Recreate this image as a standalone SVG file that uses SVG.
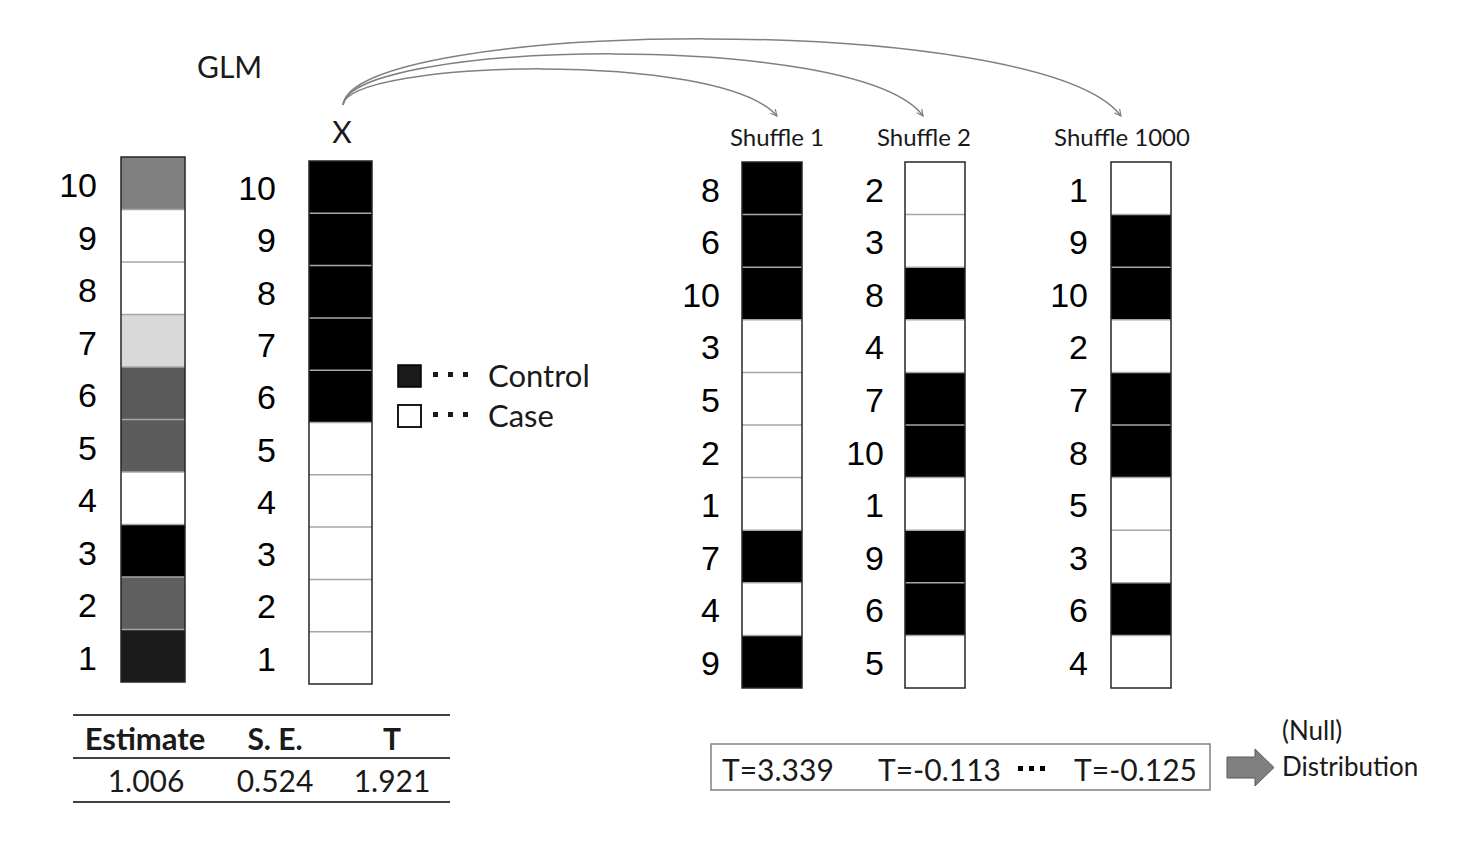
<svg xmlns="http://www.w3.org/2000/svg" width="1482" height="843" viewBox="0 0 1482 843">
<style>
.num{font-family:"Liberation Sans",Arial,Helvetica,sans-serif;font-size:34px;fill:#000;text-anchor:end}
.cal{font-family:Lato,"Open Sans",sans-serif;fill:#1a1a1a}
.sep{stroke:#a6a6a6;stroke-width:1.5}
.outer{fill:none;stroke:#262626;stroke-width:1.5}
.arc{fill:none;stroke:#808080;stroke-width:1.5}
.rule{stroke:#404040;stroke-width:2}
</style>
<defs>
<marker id="ah" viewBox="0 0 10 10" refX="9" refY="5" markerWidth="8" markerHeight="8" orient="auto" markerUnits="userSpaceOnUse">
<path d="M1,1 L9,5 L1,9" fill="none" stroke="#808080" stroke-width="1.5"/>
</marker>
</defs>
<rect width="1482" height="843" fill="#fff"/>

<text x="197" y="78" class="cal" font-size="30">GLM</text>

<g id="glm-column">
<rect x="121" y="157" width="64" height="52.5" fill="#808080"/>
<rect x="121" y="209.5" width="64" height="52.5" fill="#fff"/>
<rect x="121" y="262" width="64" height="52.5" fill="#fff"/>
<rect x="121" y="314.5" width="64" height="52.5" fill="#d9d9d9"/>
<rect x="121" y="367" width="64" height="52.5" fill="#595959"/>
<rect x="121" y="419.5" width="64" height="52.5" fill="#5c5c5c"/>
<rect x="121" y="472" width="64" height="52.5" fill="#fff"/>
<rect x="121" y="524.5" width="64" height="52.5" fill="#000"/>
<rect x="121" y="577" width="64" height="52.5" fill="#5f5f5f"/>
<rect x="121" y="629.5" width="64" height="52.5" fill="#1a1a1a"/>
<path class="sep" d="M121,209.5H185M121,262H185M121,314.5H185M121,367H185M121,419.5H185M121,472H185M121,524.5H185M121,577H185M121,629.5H185"/>
<rect class="outer" x="121" y="157" width="64" height="525"/>
<text class="num" x="97" y="197">10</text>
<text class="num" x="97" y="249.5">9</text>
<text class="num" x="97" y="302">8</text>
<text class="num" x="97" y="354.5">7</text>
<text class="num" x="97" y="407">6</text>
<text class="num" x="97" y="459.5">5</text>
<text class="num" x="97" y="512">4</text>
<text class="num" x="97" y="564.5">3</text>
<text class="num" x="97" y="617">2</text>
<text class="num" x="97" y="669.5">1</text>
</g>

<g id="x-column">
<text x="342" y="143" class="cal" font-size="30" text-anchor="middle" fill="#000">X</text>
<rect x="309" y="161" width="63" height="261.5" fill="#000"/>
<rect x="309" y="422.5" width="63" height="261.5" fill="#fff"/>
<path class="sep" d="M309,213.3H372M309,265.6H372M309,317.9H372M309,370.2H372M309,422.5H372M309,474.8H372M309,527.1H372M309,579.4H372M309,631.7H372"/>
<rect class="outer" x="309" y="161" width="63" height="523"/>
<text class="num" x="276" y="200">10</text>
<text class="num" x="276" y="252.3">9</text>
<text class="num" x="276" y="304.6">8</text>
<text class="num" x="276" y="356.9">7</text>
<text class="num" x="276" y="409.2">6</text>
<text class="num" x="276" y="461.5">5</text>
<text class="num" x="276" y="513.8">4</text>
<text class="num" x="276" y="566.1">3</text>
<text class="num" x="276" y="618.4">2</text>
<text class="num" x="276" y="670.7">1</text>
</g>

<g id="legend">
<rect x="398" y="365" width="23" height="22" fill="#1a1a1a" stroke="#000" stroke-width="1.5"/>
<rect x="398" y="405" width="23" height="22" fill="#fff" stroke="#1a1a1a" stroke-width="2"/>
<g fill="#1a1a1a">
<rect x="433" y="372" width="5" height="5"/><rect x="448" y="372" width="5" height="5"/><rect x="463" y="372" width="5" height="5"/>
<rect x="433" y="412" width="5" height="5"/><rect x="448" y="412" width="5" height="5"/><rect x="463" y="412" width="5" height="5"/>
</g>
<text x="488" y="387" class="cal" font-size="31">Control</text>
<text x="488" y="427" class="cal" font-size="31">Case</text>
</g>

<g id="connectors">
<path class="arc" d="M343,105 C348,60 720,50 777,116" marker-end="url(#ah)"/>
<path class="arc" d="M343,105 C350,40 860,30 923,116" marker-end="url(#ah)"/>
<path class="arc" d="M343,105 C352,20 1040,10 1121,116" marker-end="url(#ah)"/>
</g>

<g id="shuffle-1">
<text x="777" y="146" class="cal" font-size="24" text-anchor="middle">Shuffle 1</text>
<rect x="742" y="162" width="60" height="157.8" fill="#000"/>
<rect x="742" y="319.8" width="60" height="210.4" fill="#fff"/>
<rect x="742" y="530.2" width="60" height="52.6" fill="#000"/>
<rect x="742" y="582.8" width="60" height="52.6" fill="#fff"/>
<rect x="742" y="635.4" width="60" height="52.6" fill="#000"/>
<path class="sep" d="M742,214.6H802M742,267.2H802M742,319.8H802M742,372.4H802M742,425H802M742,477.6H802M742,530.2H802M742,582.8H802M742,635.4H802"/>
<rect class="outer" x="742" y="162" width="60" height="526"/>
<text class="num" x="720" y="201.5">8</text>
<text class="num" x="720" y="254.1">6</text>
<text class="num" x="720" y="306.7">10</text>
<text class="num" x="720" y="359.3">3</text>
<text class="num" x="720" y="411.9">5</text>
<text class="num" x="720" y="464.5">2</text>
<text class="num" x="720" y="517.1">1</text>
<text class="num" x="720" y="569.7">7</text>
<text class="num" x="720" y="622.3">4</text>
<text class="num" x="720" y="674.9">9</text>
</g>

<g id="shuffle-2">
<text x="924" y="146" class="cal" font-size="24" text-anchor="middle">Shuffle 2</text>
<rect x="905" y="162" width="60" height="105.2" fill="#fff"/>
<rect x="905" y="267.2" width="60" height="52.6" fill="#000"/>
<rect x="905" y="319.8" width="60" height="52.6" fill="#fff"/>
<rect x="905" y="372.4" width="60" height="105.2" fill="#000"/>
<rect x="905" y="477.6" width="60" height="52.6" fill="#fff"/>
<rect x="905" y="530.2" width="60" height="105.2" fill="#000"/>
<rect x="905" y="635.4" width="60" height="52.6" fill="#fff"/>
<path class="sep" d="M905,214.6H965M905,267.2H965M905,319.8H965M905,372.4H965M905,425H965M905,477.6H965M905,530.2H965M905,582.8H965M905,635.4H965"/>
<rect class="outer" x="905" y="162" width="60" height="526"/>
<text class="num" x="884" y="201.5">2</text>
<text class="num" x="884" y="254.1">3</text>
<text class="num" x="884" y="306.7">8</text>
<text class="num" x="884" y="359.3">4</text>
<text class="num" x="884" y="411.9">7</text>
<text class="num" x="884" y="464.5">10</text>
<text class="num" x="884" y="517.1">1</text>
<text class="num" x="884" y="569.7">9</text>
<text class="num" x="884" y="622.3">6</text>
<text class="num" x="884" y="674.9">5</text>
</g>

<g id="shuffle-1000">
<text x="1122" y="146" class="cal" font-size="24" text-anchor="middle">Shuffle 1000</text>
<rect x="1111" y="162" width="60" height="52.6" fill="#fff"/>
<rect x="1111" y="214.6" width="60" height="105.2" fill="#000"/>
<rect x="1111" y="319.8" width="60" height="52.6" fill="#fff"/>
<rect x="1111" y="372.4" width="60" height="105.2" fill="#000"/>
<rect x="1111" y="477.6" width="60" height="105.2" fill="#fff"/>
<rect x="1111" y="582.8" width="60" height="52.6" fill="#000"/>
<rect x="1111" y="635.4" width="60" height="52.6" fill="#fff"/>
<path class="sep" d="M1111,214.6H1171M1111,267.2H1171M1111,319.8H1171M1111,372.4H1171M1111,425H1171M1111,477.6H1171M1111,530.2H1171M1111,582.8H1171M1111,635.4H1171"/>
<rect class="outer" x="1111" y="162" width="60" height="526"/>
<text class="num" x="1088" y="201.5">1</text>
<text class="num" x="1088" y="254.1">9</text>
<text class="num" x="1088" y="306.7">10</text>
<text class="num" x="1088" y="359.3">2</text>
<text class="num" x="1088" y="411.9">7</text>
<text class="num" x="1088" y="464.5">8</text>
<text class="num" x="1088" y="517.1">5</text>
<text class="num" x="1088" y="569.7">3</text>
<text class="num" x="1088" y="622.3">6</text>
<text class="num" x="1088" y="674.9">4</text>
</g>

<g id="glm-table">
<path class="rule" d="M73,715H450M73,758H450M73,802H450"/>
<text x="145" y="750" class="cal" font-size="31" font-weight="bold" text-anchor="middle">Estimate</text>
<text x="275" y="750" class="cal" font-size="30" font-weight="bold" text-anchor="middle">S. E.</text>
<text x="392" y="750" class="cal" font-size="30" font-weight="bold" text-anchor="middle">T</text>
<text x="146" y="792" class="cal" font-size="30" text-anchor="middle">1.006</text>
<text x="275" y="792" class="cal" font-size="30" text-anchor="middle">0.524</text>
<text x="392" y="792" class="cal" font-size="30" text-anchor="middle" fill="#808080">1.921</text>
</g>

<g id="t-values">
<rect x="711" y="744" width="499" height="46" fill="#fff" stroke="#808080" stroke-width="1.5"/>
<text x="722" y="781" class="cal" font-size="30" fill="#808080">T=3.339</text>
<text x="878" y="781" class="cal" font-size="30" fill="#808080">T=-0.113</text>
<g fill="#000"><rect x="1018" y="766" width="5" height="5"/><rect x="1029" y="766" width="5" height="5"/><rect x="1040" y="766" width="5" height="5"/></g>
<text x="1197" y="781" class="cal" font-size="30" fill="#808080" text-anchor="end">T=-0.125</text>
</g>

<g id="null-distribution">
<polygon points="1227,757 1255,757 1255,749 1274,767.5 1255,786 1255,778 1227,778" fill="#808080" stroke="#595959" stroke-width="1"/>
<text x="1282" y="740" class="cal" font-size="26">(Null)</text>
<text x="1282" y="776" class="cal" font-size="26">Distribution</text>
</g>
</svg>
